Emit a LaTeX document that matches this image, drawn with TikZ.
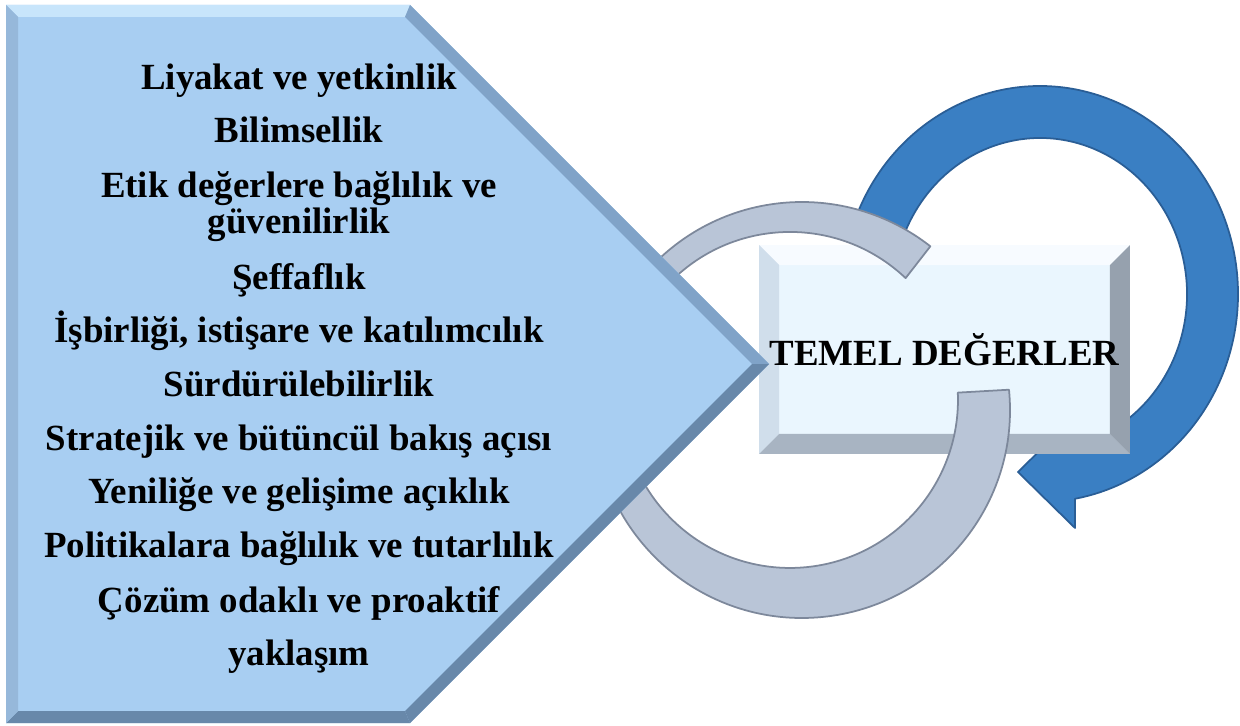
\documentclass[tikz,border=0pt]{standalone}
\usepackage{fontspec}
\setmainfont{Liberation Serif}
\usetikzlibrary{calc}

\definecolor{pentface}{RGB}{168,206,242}
\definecolor{pentlight}{RGB}{200,229,251}
\definecolor{pentside}{RGB}{150,184,218}
\definecolor{pentedge}{RGB}{128,163,200}
\definecolor{pentdark}{RGB}{104,136,170}
\definecolor{boxface}{RGB}{234,246,254}
\definecolor{boxlight}{RGB}{247,251,255}
\definecolor{boxside}{RGB}{208,222,235}
\definecolor{boxdark}{RGB}{168,180,194}
\definecolor{boxdarker}{RGB}{150,161,174}
\definecolor{ringgray}{RGB}{185,197,215}
\definecolor{ringgrayedge}{RGB}{125,136,155}
\definecolor{ringblue}{RGB}{58,127,195}
\definecolor{ringblueedge}{RGB}{42,94,150}

\begin{document}
\begin{tikzpicture}[x=0.02cm, y=-0.02cm,
    every node/.style={font=\fontsize{21}{25}\selectfont\bfseries, inner sep=0pt},
    valueline/.style={anchor=base},
    valuebox/.style={fill=boxface, minimum width=7.42cm, minimum height=4.18cm,
      path picture={
        \coordinate (nw) at (path picture bounding box.north west);
        \coordinate (ne) at (path picture bounding box.north east);
        \coordinate (sw) at (path picture bounding box.south west);
        \coordinate (se) at (path picture bounding box.south east);
        \fill[boxlight] (nw) -- (ne) -- ++(-20,20) -- ($(nw)+(20,20)$) -- cycle;
        \fill[boxside] (nw) -- ($(nw)+(20,20)$) -- ($(sw)+(20,-20)$) -- (sw) -- cycle;
        \fill[boxdark] (sw) -- (se) -- ++(-20,-20) -- ($(sw)+(20,-20)$) -- cycle;
        \fill[boxdarker] (ne) -- (se) -- ++(-20,-20) -- ($(ne)+(-20,20)$) -- cycle;
      }},
    ring/.style={line width=1pt, line join=round}]
  \useasboundingbox (0,0) rectangle (1240,726);

  % blue arrow round the box
  \coordinate (arrowtip) at (1018,472);
  \filldraw[ring, fill=ringblue, draw=ringblueedge] (853.9,222.9)
    arc[start angle=200, end angle=439.8, x radius=198, y radius=208]
    -- (1075,528) -- (arrowtip) -- (1075,416) -- (1075.07,445.5)
    arc[start angle=436.2, end angle=200, x radius=147, y radius=156]
    -- cycle;

  \node[valuebox] (temel) at (944.5,349.5) {TEMEL DEĞERLER};

  % gray ring
  \filldraw[ring, fill=ringgray, draw=ringgrayedge] (1009.0,389.7)
    arc[start angle=-5.6, end angle=308.1, radius=208]
    -- (905.6,278.1)
    arc[start angle=313.5, end angle=-2.5, radius=168]
    -- cycle;

  % pentagon with bevel
  \coordinate (p1) at (6,5);
  \coordinate (p2) at (410,5);
  \coordinate (p3) at (769,364);
  \coordinate (p4) at (410,723);
  \coordinate (p5) at (6,723);
  \coordinate (q1) at (18,17);
  \coordinate (q2) at (405,17);
  \coordinate (q3) at (752,364);
  \coordinate (q4) at (405,711);
  \coordinate (q5) at (18,711);
  \fill[pentface] (p1) -- (p2) -- (p3) -- (p4) -- (p5) -- cycle;
  \fill[pentlight] (p1) -- (p2) -- (q2) -- (q1) -- cycle;
  \fill[pentedge] (p2) -- (p3) -- (q3) -- (q2) -- cycle;
  \fill[pentdark] (p3) -- (p4) -- (q4) -- (q3) -- cycle;
  \fill[pentdark] (p4) -- (p5) -- (q5) -- (q4) -- cycle;
  \fill[pentside] (p5) -- (p1) -- (q1) -- (q5) -- cycle;

  \foreach \y/\satir [count=\i] in {90/Liyakat ve yetkinlik, 143/Bilimsellik,
      197/Etik değerlere bağlılık ve, 234/güvenilirlik, 289/Şeffaflık,
      342/{İşbirliği, istişare ve katılımcılık}, 396/Sürdürülebilirlik,
      450/Stratejik ve bütüncül bakış açısı, 503/Yeniliğe ve gelişime açıklık,
      557/Politikalara bağlılık ve tutarlılık, 612/Çözüm odaklı ve proaktif,
      665/yaklaşım}
    \node[valueline] (deger\i) at (299,\y) {\satir};
\end{tikzpicture}
\end{document}
